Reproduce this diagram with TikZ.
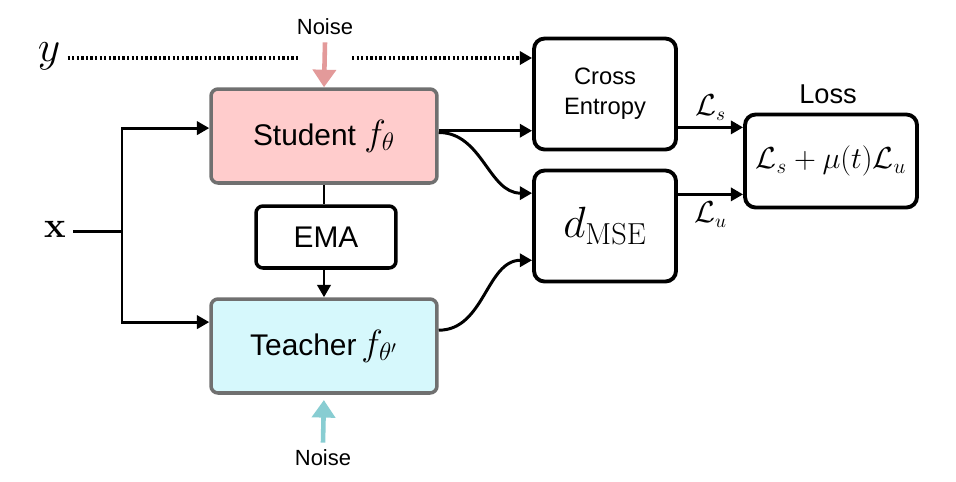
\documentclass[tikz,border=0pt]{standalone}
\usepackage{amsmath}
\usepackage[no-math]{fontspec}
\setmainfont{Liberation Sans}
\usetikzlibrary{arrows.meta}
\definecolor{studentfill}{HTML}{FFCCCC}
\definecolor{teacherfill}{HTML}{D6F8FC}
\definecolor{boxgray}{HTML}{707070}
\definecolor{noisered}{HTML}{E39A9A}
\definecolor{noiseteal}{HTML}{88CDD2}

\begin{document}
\begin{tikzpicture}[x=0.02cm, y=-0.02cm, line width=1.7pt,
    arr/.style={-{Triangle[width=7.5pt,length=7pt]}},
    noisearr/.style={-{Triangle[width=13pt,length=10pt]}, line width=2.6pt},
    netbox/.style={draw=boxgray, line width=2pt, rounded corners=4pt, minimum width=4.52cm, minimum height=1.88cm, font=\fontsize{17}{20}\selectfont},
    opbox/.style={draw, line width=2.2pt, rounded corners=6pt, minimum width=2.84cm, minimum height=2.22cm},
    small/.style={font=\fontsize{12.5}{14}\selectfont}]
    \useasboundingbox (0,0) rectangle (956,481);
    % inputs
    \node (ylab) at (49,56) {\fontsize{38}{40}\selectfont $y$};
    \node (xlab) at (55,229) {\fontsize{22}{24}\selectfont $\mathbf{x}$};
    \coordinate (ygap1) at (300,58);
    \coordinate (ygap2) at (352,58);
    \coordinate (split) at (122,231);
    % networks
    \node[netbox, fill=studentfill] (student) at (324,136) {Student {\fontsize{20}{22}\selectfont$f_\theta$}};
    \node[draw, line width=2pt, rounded corners=4pt, minimum width=2.8cm, minimum height=1.24cm, font=\fontsize{17}{20}\selectfont] (ema) at (326,237) {EMA};
    \node[netbox, fill=teacherfill] (teacher) at (324,346) {Teacher\,{\fontsize{20}{22}\selectfont$f_{\theta'}$}};
    \node[small] (noisetop) at (325,27) {Noise};
    \node[small] (noisebot) at (323,458) {Noise};
    % losses
    \node[opbox, align=center, font=\fontsize{13.5}{17}\selectfont] (ce) at (605,94) {Cross\\Entropy};
    \node[opbox, font=\fontsize{24}{26}\selectfont] (dmse) at (605,226) {$d_{\mathrm{MSE}}$};
    \node[draw, line width=2.2pt, rounded corners=6pt, minimum width=3.44cm, minimum height=1.86cm, font=\fontsize{17}{19}\selectfont] (loss) at (831,161) {$\mathcal{L}_s+\mu(t)\mathcal{L}_u$};
    \node[font=\fontsize{15.5}{17}\selectfont] (losslab) at (828,94) {Loss};

    \draw[line width=2pt, dash pattern=on 1.3pt off 1.3pt] (ylab.east |- ygap1) -- (ygap1);
    \draw[arr, line width=2pt, dash pattern=on 1.3pt off 1.3pt] (ygap2) -- (ygap2 -| ce.west);
    \draw[noisearr, noisered] (noisetop.south) -- (student.north);
    \draw[noisearr, noiseteal, shorten >=3pt] (noisebot.north) -- (teacher.south);
    \draw (xlab.east |- split) -- (split);
    \draw[arr] (split) |- ([yshift=4.5pt]student.west);
    \draw[arr] (split) |- ([yshift=13.6pt]teacher.west);
    \draw (student.south) -- (student.south |- ema.north);
    \draw[arr] (student.south |- ema.south) -- (teacher.north);
    \draw[arr] ([yshift=3pt]student.east) -- ([yshift=3pt]student.east -| ce.west);
    \draw[arr] ([yshift=2pt]student.east) to[out=0, in=180] ([yshift=18.7pt]dmse.west);
    \draw[arr] ([yshift=9pt]teacher.east) to[out=0, in=180] ([yshift=-19.5pt]dmse.west);
    \draw[arr] ([yshift=-19pt]ce.east) -- node[above, font=\fontsize{16}{18}\selectfont] {$\mathcal{L}_s$} ([yshift=-19pt]ce.east -| loss.west);
    \draw[arr] ([yshift=18pt]dmse.east) -- node[below, font=\fontsize{16}{18}\selectfont] {$\mathcal{L}_u$} ([yshift=18pt]dmse.east -| loss.west);
\end{tikzpicture}
\end{document}
